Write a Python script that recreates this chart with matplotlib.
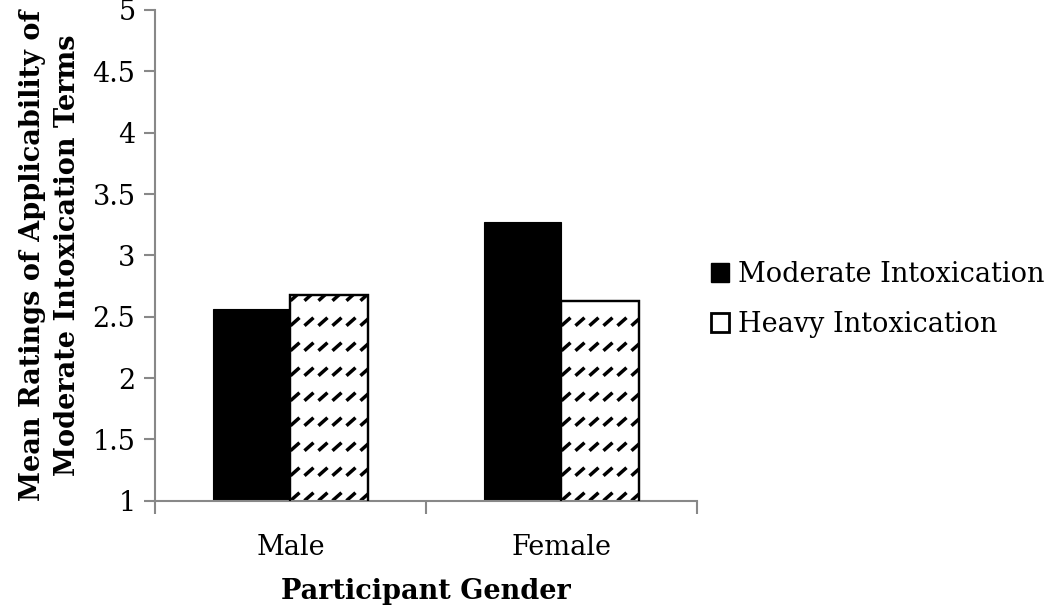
import matplotlib
matplotlib.use('Agg')
import numpy as np
from matplotlib import pyplot as plt
from matplotlib.patches import Patch
from matplotlib.collections import LineCollection

# data
genders = ['Male', 'Female']
moderate = [2.56, 3.27]
heavy = [2.68, 2.63]
series_names = ['Moderate Intoxication', 'Heavy Intoxication']

plt.rcParams['font.family'] = ['DejaVu Serif']

fig = plt.figure(figsize=(10.5, 6.13), dpi=100)
ax = fig.add_axes([0.1476, 0.1832, 0.5162, 0.8005])

x = np.arange(len(genders))
w = 1 / 3.5  # excel style gap width 150%

ax.set_ylim(1, 5)
ax.set_xlim(-0.5, len(genders) - 0.5)

ax.bar(x - w / 2, moderate, w, bottom=0, color='black', edgecolor='black', linewidth=0.8)
heavy_bars = ax.bar(x + w / 2, heavy, w, color='white', edgecolor='black', linewidth=1.6, zorder=2)

# excel "dashed upward diagonal" fill, drawn as short dashes clipped to each bar
fig.canvas.draw()
px_x = ax.transData.transform((1, 0))[0] - ax.transData.transform((0, 0))[0]
px_y = ax.transData.transform((0, 1))[1] - ax.transData.transform((0, 0))[1]
row_step, col_step = 25 / px_y, 14 / px_x
for bar in heavy_bars:
    x0, w0, top = bar.get_x(), bar.get_width(), bar.get_height()
    segs = []
    for yr in np.arange(1.0, top + row_step, row_step):
        for xc in np.arange(x0 - col_step, x0 + w0 + col_step, col_step):
            segs.append([(xc, yr), (xc + 9 / px_x, yr + 8 / px_y)])
    lc = LineCollection(segs, colors='black', linewidths=2.5, capstyle='butt', zorder=2.5)
    ax.add_collection(lc)
    lc.set_clip_path(bar)
# outline on top of the dashes
ax.bar(x + w / 2, heavy, w, fill=False, edgecolor='black', linewidth=1.6, zorder=3)

ax.set_yticks(np.arange(1, 5.01, 0.5))
ax.set_yticklabels(['1', '1.5', '2', '2.5', '3', '3.5', '4', '4.5', '5'])

# ticks at category boundaries, labels at centres
ax.set_xticks(np.arange(-0.5, len(genders), 1.0))
ax.set_xticklabels([])
ax.set_xticks(x, minor=True)
ax.set_xticklabels(genders, minor=True)
ax.tick_params(axis='x', which='minor', length=0, pad=24, labelsize=19.5)
ax.tick_params(axis='x', which='major', length=9, width=1.5, color='#888888', direction='out')
ax.tick_params(axis='y', length=8, width=1.5, color='#888888', labelsize=19.5, pad=6)

for s in ['top', 'right']:
    ax.spines[s].set_visible(False)
for s in ['left', 'bottom']:
    ax.spines[s].set_color('#888888')
    ax.spines[s].set_linewidth(1.5)

ax.set_xlabel('Participant Gender', fontsize=19.5, fontweight='bold', labelpad=12)
ax.set_ylabel('Mean Ratings of Applicability of\nModerate Intoxication Terms', fontsize=19.5,
              fontweight='bold', labelpad=8, linespacing=1.4)

handles = [Patch(facecolor='black', edgecolor='black'),
           Patch(facecolor='white', edgecolor='black', linewidth=2)]
ax.legend(handles, series_names, loc='center left', bbox_to_anchor=(1.005, 0.41),
          frameon=False, fontsize=19.5, handlelength=0.7, handleheight=0.7,
          handletextpad=0.3, labelspacing=0.85, borderaxespad=0)

plt.savefig('out.png', dpi=100)
